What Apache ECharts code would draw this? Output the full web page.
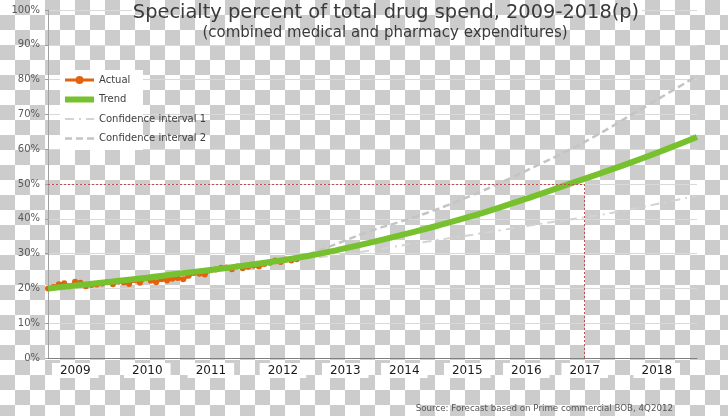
<!DOCTYPE html>
<html>
<head>
<meta charset="utf-8">
<script src="https://cdn.jsdelivr.net/npm/echarts@6/dist/echarts.min.js"></script>
<style>
html,body{margin:0;padding:0;}
#chart{width:728px;height:416px;
background-color:#fff;
background-image:conic-gradient(#cccccc 25%, #ffffff 0 50%, #cccccc 0 75%, #ffffff 0);
background-size:30px 30px;}
</style>
</head>
<body>
<div id="chart"></div>
<script>
// ---- data ----
const yearLabels = ['2009','2010','2011','2012','2013','2014','2015','2016','2017','2018'];
const actualStartYear = 2009;
// monthly actual values (%), Jan 2009 - Nov 2012
const actualValues = [
  20.0, 20.4, 21.2, 21.5, 20.6, 21.9, 21.6, 20.6, 21.0, 21.1, 21.4, 21.8,
  21.2, 22.0, 21.7, 21.3, 22.4, 21.6, 22.9, 22.2, 21.8, 22.6, 22.3, 22.8,
  23.0, 22.6, 23.6, 24.4, 24.2, 24.0, 25.2, 25.4, 25.9, 26.0, 25.5, 26.3,
  25.8, 26.2, 26.6, 26.3, 27.0, 27.4, 28.0, 27.6, 28.3, 28.0, 28.4
];
const trendYears = [2009, 2009.5, 2010, 2010.5, 2011, 2011.5, 2012, 2012.5, 2013, 2013.5, 2014, 2014.5, 2015, 2015.5, 2016, 2016.5, 2017, 2017.5, 2018, 2018.5, 2019];
const trendValues = [20.0, 21.0, 22.0, 23.0, 24.2, 25.3, 26.5, 27.8, 29.3, 31.2, 33.3, 35.6, 38.0, 40.6, 43.5, 46.6, 49.8, 53.0, 56.3, 59.8, 63.5];
const ciYears = [2012.85, 2013.5, 2014, 2014.5, 2015, 2015.5, 2016, 2016.5, 2017, 2017.5, 2018, 2018.5, 2019];
const ci1Values = [28.3, 29.7, 31.0, 32.5, 33.9, 35.3, 36.8, 38.3, 39.7, 41.1, 42.8, 44.7, 46.6];
const ci2Values = [28.6, 33.2, 36.7, 39.6, 42.8, 46.5, 50.6, 55.0, 59.5, 64.5, 70.0, 75.5, 81.0];
const markYear = 2017.27;
const markPct = 50;

// ---- chart ----
const FONT = 'DejaVu Sans';
const labelPos = [2009.42, 2010.53, 2011.51, 2012.62, 2013.58, 2014.49, 2015.46, 2016.37, 2017.27, 2018.38];
const labelMap = {};
labelPos.forEach((p, i) => { labelMap[p] = yearLabels[i]; });

const actualData = actualValues.map((v, i) => [actualStartYear + i / 12, v]);
const trendData = trendYears.map((y, i) => [y, trendValues[i]]);
const ci1Data = ciYears.map((y, i) => [y, ci1Values[i]]);
const ci2Data = ciYears.map((y, i) => [y, ci2Values[i]]);

// checkerboard pattern (same phase as page background) for the title box
const pc = document.createElement('canvas');
pc.width = 30; pc.height = 30;
const pctx = pc.getContext('2d');
pctx.fillStyle = '#ffffff'; pctx.fillRect(0, 0, 30, 30);
pctx.fillStyle = '#cccccc'; pctx.fillRect(15, 0, 15, 15); pctx.fillRect(0, 15, 15, 15);

const noSym = {opacity: 0};

const chart = echarts.init(document.getElementById('chart'), null, {renderer: 'canvas'});
chart.setOption({
  animation: false,
  backgroundColor: 'transparent',
  textStyle: {fontFamily: FONT},
  grid: {left: 48, right: 31, top: 10, bottom: 58, containLabel: false},
  graphic: [
    {type: 'rect', shape: {x: 60, y: 70, width: 83, height: 80}, style: {fill: '#ffffff'}, z: 1},
    {type: 'rect', shape: {x: 132, y: 3, width: 510, height: 21}, style: {fill: {image: pc, repeat: 'repeat'}}, z: 100},
    {type: 'text', x: 386, y: 3, z: 101, style: {text: 'Specialty percent of total drug spend, 2009-2018(p)', font: '19.4px "DejaVu Sans"', fill: '#3a3a3a', textAlign: 'center'}},
    {type: 'text', x: 385, y: 26, z: 101, style: {text: '(combined medical and pharmacy expenditures)', font: '15px "DejaVu Sans"', fill: '#3a3a3a', textAlign: 'center'}},
    {type: 'text', x: 673, y: 404, z: 101, style: {text: 'Source: Forecast based on Prime commercial BOB, 4Q2012', font: '8.7px "DejaVu Sans"', fill: '#555555', textAlign: 'right'}}
  ],
  legend: {
    orient: 'vertical', left: 62, top: 75, padding: 0, itemWidth: 29, itemHeight: 10, itemGap: 9.5,
    textStyle: {fontSize: 10, color: '#404040', fontFamily: FONT},
    lineStyle: {width: 'inherit'},
    data: [
      {name: 'Actual'},
      {name: 'Trend', itemStyle: noSym},
      {name: 'Confidence interval 1', itemStyle: noSym},
      {name: 'Confidence interval 2', itemStyle: noSym}
    ],
    z: 5
  },
  xAxis: {
    type: 'value', min: 2009, max: 2019,
    axisLine: {show: true, lineStyle: {color: '#808080', width: 1}},
    axisTick: {show: false},
    splitLine: {show: false},
    axisLabel: {
      customValues: labelPos,
      formatter: v => labelMap[v] !== undefined ? labelMap[v] : '',
      fontSize: 12, color: '#1a1a1a', fontFamily: FONT, margin: 5,
      backgroundColor: '#ffffff', padding: [2, 8, 1, 8]
    }
  },
  yAxis: {
    type: 'value', min: 0, max: 100, interval: 10,
    axisLine: {show: true, lineStyle: {color: '#a0a0a0', width: 1}},
    axisTick: {show: true, length: 3, lineStyle: {color: '#a0a0a0'}},
    splitLine: {show: true, lineStyle: {color: '#d9d9d9', width: 1}},
    axisLabel: {formatter: '{value}%', fontSize: 10, color: '#595959', fontFamily: FONT, margin: 8}
  },
  series: [
    {
      name: 'Actual', type: 'line', data: actualData, z: 3,
      symbol: 'circle', symbolSize: 6, showSymbol: true,
      itemStyle: {color: '#e2620e'},
      lineStyle: {color: '#e2620e', width: 3}
    },
    {
      name: 'Trend', type: 'line', data: trendData, smooth: true, symbol: 'none', z: 4,
      itemStyle: {color: '#78c12e'},
      lineStyle: {color: '#78c12e', width: 6},
      markLine: {
        silent: true, symbol: 'none', label: {show: false},
        lineStyle: {color: '#c0504d', width: 1, type: [2, 2]},
        data: [
          [{coord: [2009, markPct]}, {coord: [markYear, markPct]}],
          [{coord: [markYear, markPct]}, {coord: [markYear, 0]}]
        ]
      }
    },
    {
      name: 'Confidence interval 1', type: 'line', data: ci1Data, smooth: true, symbol: 'none', z: 2,
      itemStyle: {color: '#d3d3d3'},
      lineStyle: {color: '#d3d3d3', width: 2, type: [9, 5, 2, 5]}
    },
    {
      name: 'Confidence interval 2', type: 'line', data: ci2Data, smooth: true, symbol: 'none', z: 2,
      itemStyle: {color: '#c4c4c4'},
      lineStyle: {color: '#c4c4c4', width: 2.5, type: [7, 4]}
    }
  ]
});
</script>
</body>
</html>
